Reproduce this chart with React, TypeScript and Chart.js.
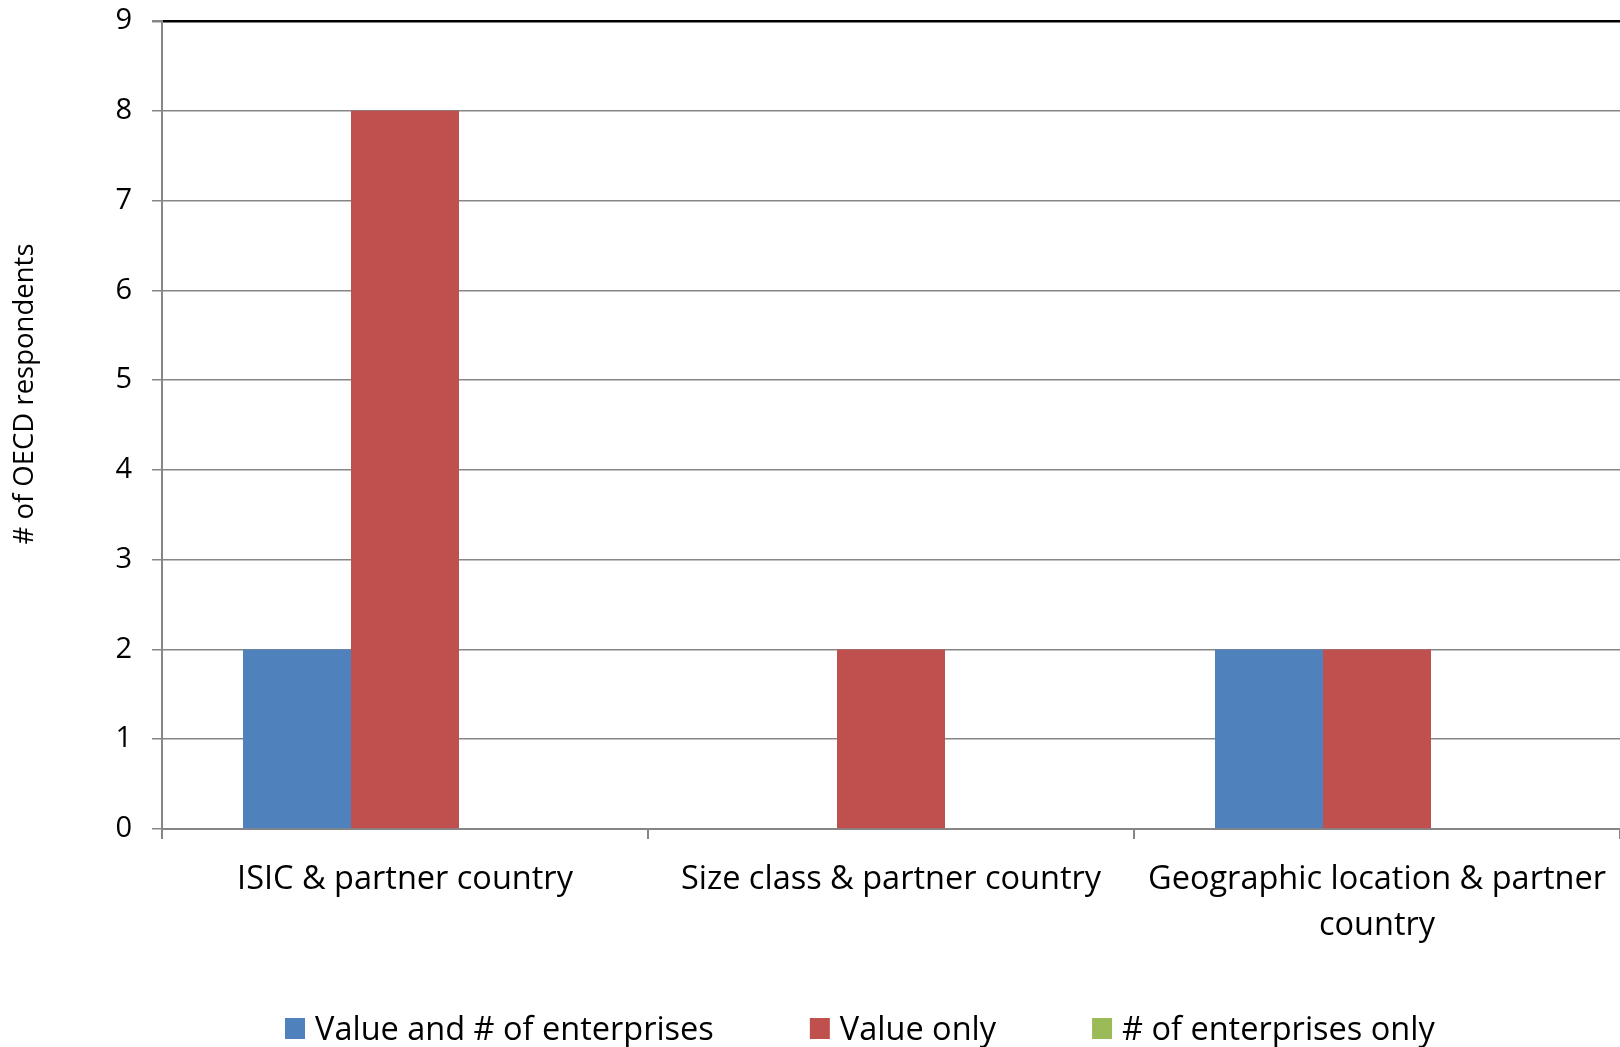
import React, { useEffect, useRef } from 'react';
import { Chart, registerables } from 'chart.js';

Chart.register(...registerables);

// ---- data ----
const categories: (string | string[])[] = [
  'ISIC & partner country',
  'Size class & partner country',
  ['Geographic location & partner', 'country'],
];
const seriesNames = ['Value and # of enterprises', 'Value only', '# of enterprises only'];
const valueAndCount = [2, 0, 2];
const valueOnly = [8, 2, 2];
const countOnly = [0, 0, 0];
const seriesColors = ['#4F81BD', '#C0504D', '#9BBB59'];
const yMin = 0;
const yMax = 9;
const yStep = 1;
const yAxisTitle = '# of OECD respondents';

const W = 1620;
const H = 1047;
const FONT = '"Open Sans", "DejaVu Sans", sans-serif';

export default function App() {
  const ref = useRef<HTMLCanvasElement | null>(null);

  useEffect(() => {
    document.body.style.margin = '0';
    const canvas = ref.current;
    if (!canvas) return;

    const yTitlePlugin = {
      id: 'yTitle',
      afterDraw(chart: any) {
        const ctx = chart.ctx;
        ctx.save();
        ctx.translate(33, 394);
        ctx.rotate(-Math.PI / 2);
        ctx.font = `27.5px ${FONT}`;
        ctx.fillStyle = '#000';
        ctx.textAlign = 'center';
        ctx.textBaseline = 'alphabetic';
        ctx.fillText(yAxisTitle, 0, 0);
        ctx.restore();
      },
    };

    const legendPlugin = {
      id: 'customLegend',
      afterDraw(chart: any) {
        const ctx = chart.ctx;
        ctx.save();
        ctx.font = `32.5px ${FONT}`;
        ctx.textAlign = 'left';
        ctx.textBaseline = 'alphabetic';
        let x = 285;
        chart.data.datasets.forEach((ds: any) => {
          ctx.fillStyle = ds.backgroundColor;
          ctx.fillRect(x, 1018, 20, 21);
          x += 30;
          ctx.fillStyle = '#000';
          ctx.fillText(ds.label, x, 1040);
          x += ctx.measureText(ds.label).width + 96;
        });
        ctx.restore();
      },
    };

    const chart = new Chart(canvas, {
      type: 'bar',
      data: {
        labels: categories as any,
        datasets: [
          { label: seriesNames[0], data: valueAndCount, backgroundColor: seriesColors[0], borderWidth: 0 },
          { label: seriesNames[1], data: valueOnly, backgroundColor: seriesColors[1], borderWidth: 0 },
          { label: seriesNames[2], data: countOnly, backgroundColor: seriesColors[2], borderWidth: 0 },
        ],
      },
      options: {
        responsive: false,
        maintainAspectRatio: false,
        animation: false,
        devicePixelRatio: 1,
        datasets: { bar: { categoryPercentage: 2 / 3, barPercentage: 1 } },
        layout: { padding: { top: 21, left: 0, right: 0, bottom: 0 } },
        plugins: {
          tooltip: { enabled: false },
          title: { display: false },
          legend: { display: false },
        },
        scales: {
          x: {
            offset: true,
            grid: {
              offset: true,
              drawOnChartArea: false,
              drawTicks: true,
              tickLength: 10,
              color: '#868686',
              tickColor: '#868686',
              lineWidth: 2,
            },
            border: { display: true, color: '#868686', width: 2 },
            ticks: {
              color: '#000',
              padding: 18,
              maxRotation: 0,
              autoSkip: false,
              font: { family: FONT, size: 32.5, lineHeight: 1.4 },
            },
            afterFit(scale: any) {
              scale.height = H - 829;
              scale.paddingLeft = 0;
              scale.paddingRight = 0;
            },
          },
          y: {
            min: yMin,
            max: yMax,
            grid: {
              color: (c: any) => (c.tick && c.tick.value === yMax ? '#000' : '#868686'),
              tickColor: '#868686',
              lineWidth: (c: any) => (c.tick && c.tick.value === yMax ? 2.5 : 1.5),
              tickLength: 10,
              drawTicks: true,
            },
            border: { display: true, color: '#868686', width: 2 },
            ticks: {
              stepSize: yStep,
              color: '#000',
              padding: 20,
              font: { family: FONT, size: 29 },
            },
            afterFit(scale: any) {
              scale.width = 162;
              scale.paddingTop = 0;
              scale.paddingBottom = 0;
            },
          },
        },
      },
      plugins: [yTitlePlugin, legendPlugin],
    } as any);

    return () => chart.destroy();
  }, []);

  return (
    <div style={{ position: 'absolute', left: 0, top: 0, width: W, height: H, background: '#fff' }}>
      <canvas ref={ref} width={W} height={H} style={{ width: W, height: H, display: 'block' }} />
    </div>
  );
}
